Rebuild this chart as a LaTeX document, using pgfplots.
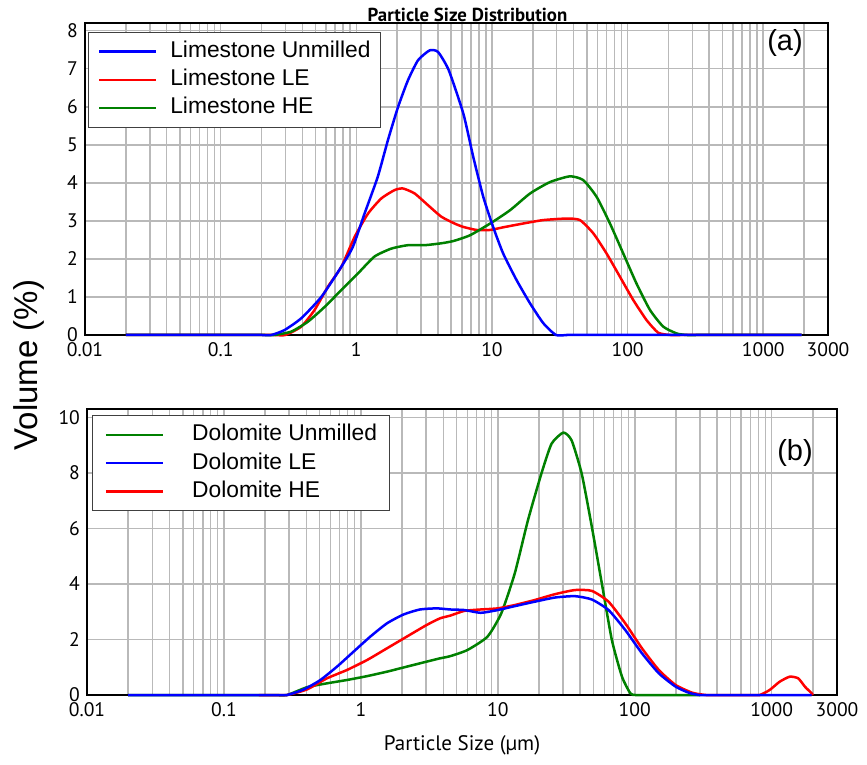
\documentclass[border=0pt]{standalone}
\usepackage{fontspec}
\setmainfont{Liberation Sans}
\newfontfamily\ptsans{PT Sans}
\usepackage{pgfplots}
\pgfplotsset{compat=1.18}
\usepackage{pgfplotstable}

\definecolor{cblue}{RGB}{0,0,255}
\definecolor{cred}{RGB}{255,0,0}
\definecolor{cgreen}{RGB}{0,128,0}

% ---------- Limestone (a) ----------
\pgfplotstableread{
x y
0.02 0
0.15 0
0.2 0
0.236 0
0.296 0.13
0.393 0.44
0.552 1.0
0.775 1.79
0.944 2.32
1.15 3.19
1.44 4.16
1.71 5.12
2.03 5.99
2.40 6.69
2.85 7.22
3.47 7.48
4.0 7.44
4.8 6.96
6.15 5.82
7.28 4.68
8.63 3.63
10.2 2.84
12.1 2.14
15.2 1.44
19.1 0.83
23.9 0.31
29.6 0
36 0
45 0
1920 0
}\lsUN
\pgfplotstableread{
x y
0.02 0
0.2 0
0.25 0
0.30 0
0.393 0.22
0.493 0.66
0.618 1.27
0.775 1.79
0.973 2.58
1.22 3.19
1.53 3.59
1.92 3.81
2.21 3.85
2.69 3.72
3.38 3.41
4.23 3.11
5.3 2.93
6.15 2.84
7.7 2.76
9.7 2.76
12.1 2.83
17.0 2.93
23.9 3.02
35.5 3.06
44.5 3.02
55.9 2.67
70 2.14
87.8 1.53
110 0.92
138 0.39
168 0.06
205 0
250 0
300 0
1920 0
}\lsLE
\pgfplotstableread{
x y
0.02 0
0.17 0
0.21 0
0.25 0
0.332 0.09
0.44 0.35
0.585 0.74
0.775 1.18
1.03 1.62
1.36 2.06
1.81 2.27
2.40 2.36
3.19 2.36
4.23 2.41
5.2 2.47
6.88 2.62
9.7 2.93
13.6 3.28
19.1 3.72
26.8 4.02
37.6 4.17
47.1 4.07
59.1 3.63
74.1 2.93
92.9 2.14
116 1.36
146 0.66
183 0.22
230 0.04
272 0
330 0
400 0
1920 0
}\lsHE

% ---------- Dolomite (b) ----------
\pgfplotstableread{
x y
0.02 0
0.18 0
0.23 0
0.289 0
0.404 0.28
0.565 0.42
0.791 0.54
1.11 0.68
1.55 0.84
2.16 1.02
3.02 1.20
3.78 1.32
4.5 1.40
6.0 1.62
8.4 2.10
10.6 2.94
13.3 4.38
16.6 6.29
20.8 7.97
24.7 9.05
30.1 9.45
34.6 9.17
41.0 7.97
48.6 6.06
57.5 4.02
68.1 1.98
80.7 0.66
92.9 0.06
101 0
120 0
145 0
300 0
}\doUN
\pgfplotstableread{
x y
0.02 0
0.18 0
0.23 0
0.289 0
0.383 0.2
0.506 0.54
0.669 1.02
0.884 1.56
1.17 2.10
1.55 2.58
2.05 2.90
2.70 3.08
3.58 3.12
4.5 3.08
5.7 3.06
7.5 2.96
10 3.06
13.3 3.20
18.6 3.36
26.1 3.51
36.6 3.56
48.6 3.44
64.4 3.06
85.3 2.34
113 1.50
150 0.78
199 0.30
249 0.08
296 0
360 0
440 0
1960 0
}\doLE
\pgfplotstableread{
x y
0.18 0
0.23 0
0.289 0
0.404 0.2
0.565 0.6
0.791 0.9
1.11 1.26
1.55 1.68
2.16 2.10
3.02 2.52
3.78 2.76
4.5 2.86
5.7 3.03
7.5 3.08
10 3.12
13.3 3.24
18.6 3.42
26.1 3.63
36.6 3.78
48.6 3.75
64.4 3.36
85.3 2.58
113 1.68
150 0.9
199 0.36
264 0.08
331 0
400 0
500 0
680 0
817 0
966 0.18
1145 0.48
1356 0.66
1563 0.60
1750 0.30
1960 0.06
2000 0
}\doHE

\begin{document}
\begin{tikzpicture}
\path[use as bounding box] (0,0) rectangle (433.5pt,-382.5pt);

\begin{axis}[
  xmode=log, scale only axis,
  at={(42.5pt,-11.5pt)}, anchor=north west,
  width=371.5pt, height=156pt,
  xmin=0.01, xmax=3000, ymin=0, ymax=8.2,
  ytick={0,1,2,3,4,5,6,7,8},
  xtick={0.01,0.1,1,10,100,1000,3000},
  xticklabels={0.01,0.1,1,10,100,1000,3000},
  minor xtick={0.02,0.03,0.04,0.05,0.06,0.07,0.08,0.09,
               0.2,0.3,0.4,0.5,0.6,0.7,0.8,0.9,
               2,3,4,5,6,7,8,9,
               20,30,40,50,60,70,80,90,
               200,300,400,500,600,700,800,900,2000},
  grid=both,
  major grid style={draw=gray!55, line width=0.8pt},
  minor grid style={draw=gray!55, line width=0.8pt},
  major tick length=0pt, minor tick length=0pt,
  axis line style={line width=1.4pt},
  ticklabel style={font=\ptsans\fontsize{9.8}{11}\selectfont},
  /pgf/number format/assume math mode=true,
  clip=false,
  legend cell align=left,
  legend image code/.code={\draw[#1, line width=1.3pt] (0pt,0pt) -- (28.5pt,0pt);},
  legend style={draw=black!75, fill=white,
    font=\fontsize{11.4}{13}\selectfont,
    inner ysep=4.5pt, row sep=3.6pt,
    nodes={inner sep=0pt, text height=8.2pt, text depth=2.3pt},
    at={(axis description cs:0.0036,0.972)}, anchor=north west,
    inner xsep=5pt, column sep=6.3pt},
]
\addplot[cred, line width=1.25pt, smooth, tension=0.35, forget plot] table {\lsLE};
\addplot[cgreen, line width=1.25pt, smooth, tension=0.35, forget plot] table {\lsHE};
\addplot[cblue, line width=1.25pt, smooth, tension=0.35] table {\lsUN};
\addlegendentry{Limestone Unmilled}
\addlegendimage{cred, line width=1.3pt}
\addlegendentry{Limestone LE}
\addlegendimage{cgreen, line width=1.3pt}
\addlegendentry{Limestone HE}
\end{axis}

\begin{axis}[
  xmode=log, scale only axis,
  at={(43.5pt,-204.5pt)}, anchor=north west,
  width=375pt, height=143pt,
  xmin=0.01, xmax=3000, ymin=0, ymax=10.3,
  ytick={0,2,4,6,8,10},
  xtick={0.01,0.1,1,10,100,1000,3000},
  xticklabels={0.01,0.1,1,10,100,1000,3000},
  minor xtick={0.02,0.03,0.04,0.05,0.06,0.07,0.08,0.09,
               0.2,0.3,0.4,0.5,0.6,0.7,0.8,0.9,
               2,3,4,5,6,7,8,9,
               20,30,40,50,60,70,80,90,
               200,300,400,500,600,700,800,900,2000},
  grid=both,
  major grid style={draw=gray!55, line width=0.8pt},
  minor grid style={draw=gray!55, line width=0.8pt},
  major tick length=0pt, minor tick length=0pt,
  axis line style={line width=1.4pt},
  ticklabel style={font=\ptsans\fontsize{9.8}{11}\selectfont},
  /pgf/number format/assume math mode=true,
  clip=false,
  legend cell align=left,
  legend image code/.code={\draw[#1, line width=1.3pt] (0pt,0pt) -- (28.5pt,0pt);},
  legend style={draw=black!75, fill=white,
    font=\fontsize{11.4}{13}\selectfont,
    inner ysep=4.5pt, row sep=3.6pt,
    nodes={inner sep=0pt, text height=8.2pt, text depth=2.3pt},
    at={(axis description cs:0.0063,0.979)}, anchor=north west,
    inner xsep=6.2pt, column sep=14pt},
]
\addplot[cgreen, line width=1.25pt, smooth, tension=0.35] table {\doUN};
\addlegendentry{Dolomite Unmilled}
\addplot[cred, line width=1.25pt, smooth, tension=0.35, forget plot] table {\doHE};
\addplot[cblue, line width=1.25pt, smooth, tension=0.35] table {\doLE};
\addlegendentry{Dolomite LE}
\addlegendimage{cred, line width=1.3pt}
\addlegendentry{Dolomite HE}
\end{axis}

\node[font=\ptsans\bfseries\fontsize{9.4}{10}\selectfont, anchor=base] at (233.75pt,-11pt) {Particle Size Distribution};
\node[font=\fontsize{14.5}{16}\selectfont] at (392.5pt,-21.5pt) {(a)};
\node[font=\fontsize{14.5}{16}\selectfont] at (397.5pt,-226.5pt) {(b)};
\node[font=\fontsize{16.5}{18}\selectfont, rotate=90] at (14.5pt,-182.5pt) {Volume (\%)};
\node[font=\ptsans\fontsize{10.5}{12}\selectfont] at (231pt,-372.5pt) {Particle Size (µm)};
\end{tikzpicture}
\end{document}
